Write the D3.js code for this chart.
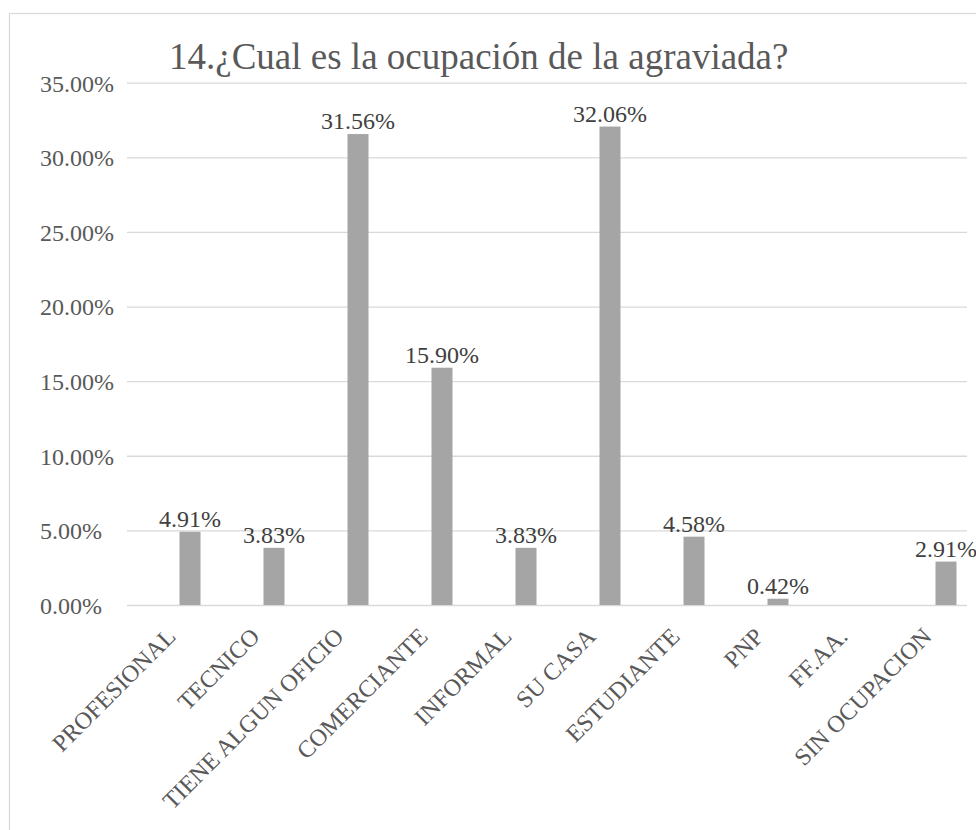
<!DOCTYPE html>
<html>
<head>
<meta charset="utf-8">
<script src="https://cdn.jsdelivr.net/npm/d3@7"></script>
<style>
  html, body { margin: 0; padding: 0; background: #ffffff; }
  svg { display: block; }
  svg text { font-family: "Liberation Serif", "Times New Roman", serif; }
</style>
</head>
<body>
<svg id="chart" width="976" height="830"></svg>
<script>
const title = "14.¿Cual es la ocupación de la agraviada?";
const categories = ["PROFESIONAL", "TECNICO", "TIENE ALGUN OFICIO", "COMERCIANTE", "INFORMAL", "SU CASA", "ESTUDIANTE", "PNP", "FF.AA.", "SIN OCUPACION"];
const values = [0.0491, 0.0383, 0.3156, 0.1590, 0.0383, 0.3206, 0.0458, 0.0042, null, 0.0291];
const yTicks = [0, 0.05, 0.10, 0.15, 0.20, 0.25, 0.30, 0.35];

const FONT = "Liberation Serif, Times New Roman, serif";
const svg = d3.select("#chart");
const plotLeft = 127, plotRight = 967, plotTop = 82.7, plotBottom = 605;

// outer chart border (extends past the photographed area)
svg.append("rect")
  .attr("x", 9.5).attr("y", 13.5)
  .attr("width", 1100).attr("height", 1000)
  .attr("fill", "#ffffff")
  .attr("stroke", "#d9d9d9").attr("stroke-width", 1.2);

const x = d3.scaleBand().domain(categories).range([plotLeft, plotRight]).paddingInner(0).paddingOuter(0);
const y = d3.scaleLinear().domain([0, 0.35]).range([plotBottom, plotTop]);

// gridlines
const grid = svg.append("g").attr("transform", `translate(${plotLeft},0)`)
  .call(d3.axisLeft(y).tickValues(yTicks).tickSize(-(plotRight - plotLeft)).tickFormat(""));
grid.select(".domain").remove();
grid.selectAll("line").attr("stroke", "#d9d9d9").attr("stroke-width", 1.3);

// y axis labels
const yAxis = svg.append("g").attr("transform", `translate(${plotLeft},0)`)
  .call(d3.axisLeft(y).tickValues(yTicks).tickSize(0).tickFormat(d3.format(".2%")));
yAxis.attr("font-family", FONT).attr("font-size", 24);
yAxis.select(".domain").remove();
yAxis.selectAll("text")
  .attr("x", 40 - plotLeft)
  .attr("text-anchor", "start")
  .attr("dy", "0.35em")
  .attr("fill", "#595959")
  .attr("font-family", FONT)
  .attr("font-size", 24);

// bars
const data = categories.map((c, i) => ({ c, v: values[i] }));
const barW = x.bandwidth() * 0.25;
const barX = d => x(d.c) + x.bandwidth() * 0.625;
svg.append("g").selectAll("rect").data(data.filter(d => d.v != null)).join("rect")
  .attr("x", barX)
  .attr("y", d => y(d.v))
  .attr("width", barW)
  .attr("height", d => y(0) - y(d.v))
  .attr("fill", "#a5a5a5");

// value labels
svg.append("g").selectAll("text").data(data.filter(d => d.v != null)).join("text")
  .attr("x", d => barX(d) + barW / 2)
  .attr("y", d => y(d.v) - 5)
  .attr("text-anchor", "middle")
  .attr("fill", "#404040")
  .attr("font-family", FONT)
  .attr("font-size", 24)
  .text(d => d3.format(".2%")(d.v));

// x axis labels
const xAxis = svg.append("g").attr("transform", `translate(0,${plotBottom})`)
  .call(d3.axisBottom(x).tickSize(0));
xAxis.attr("font-family", FONT).attr("font-size", 24);
xAxis.select(".domain").remove();
xAxis.selectAll("text")
  .attr("text-anchor", "end")
  .attr("x", 0).attr("y", 0).attr("dy", 0)
  .attr("transform", "translate(8,33) rotate(-45)")
  .attr("fill", "#595959")
  .attr("font-family", FONT)
  .attr("font-size", 24);

// title
svg.append("text")
  .attr("x", 169).attr("y", 69)
  .attr("fill", "#595959")
  .attr("font-family", FONT)
  .attr("font-size", 37)
  .text(title);
</script>
</body>
</html>
